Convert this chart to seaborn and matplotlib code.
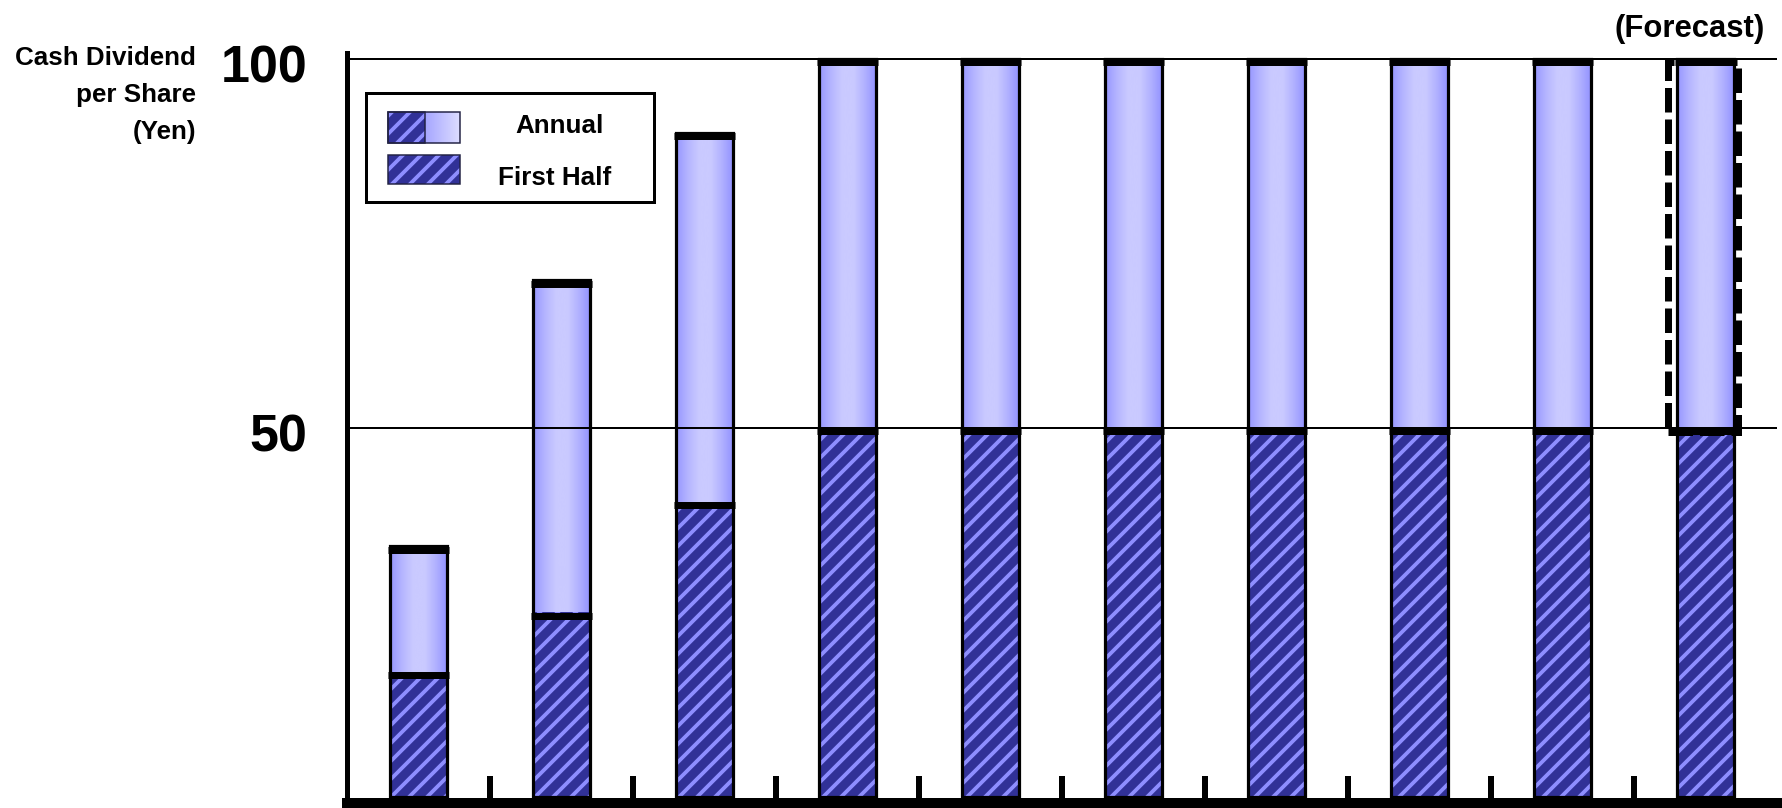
import numpy as np
import pandas as pd
import matplotlib
matplotlib.use("Agg")
import matplotlib.pyplot as plt
from matplotlib.patches import Rectangle
from matplotlib.colors import LinearSegmentedColormap
from matplotlib.ticker import FixedLocator, NullFormatter
import matplotlib.transforms as mtransforms
import seaborn as sns

# ---- data -------------------------------------------------------------
periods = ["P01", "P02", "P03", "P04", "P05", "P06", "P07", "P08", "P09", "P10"]
annual = [34, 70, 90, 100, 100, 100, 100, 100, 100, 100]
first_half = [17, 25, 40, 50, 50, 50, 50, 50, 50, 50]
forecast_index = 9
ytick_values = [50, 100]
ytick_labels = ["50", "100"]

# ---- canvas: sizes below are given in pixels and converted to points ----
W, H = 1782, 808
DPI = 54          # hatch period = DPI / 6 px
P = 72 / DPI      # points per pixel

sns.set_style("white")
plt.rcParams["font.family"] = ["Liberation Sans", "DejaVu Sans"]
plt.rcParams["hatch.linewidth"] = 3.8 * P
for key in ["text.color", "axes.labelcolor", "xtick.color", "ytick.color"]:
    plt.rcParams[key] = "black"

fig = plt.figure(figsize=(W / DPI, H / DPI), dpi=DPI)
fig.patch.set_facecolor("white")


def fx(x):
    return x / W


def fy(y):
    return 1 - y / H


ax_left, ax_right, ax_top, ax_bottom = 347, 1777, 53, 802.5
ax = fig.add_axes([fx(ax_left), fy(ax_bottom), (ax_right - ax_left) / W,
                   (ax_bottom - ax_top) / H])
ax.set_facecolor("white")

DARK = "#313197"
STRIPE = "#8e8eff"
grad_cmap = LinearSegmentedColormap.from_list(
    "bar_grad", ["#9696ff", "#b4b4ff", "#cacaff", "#cacaff", "#b0b0ff", "#9090ff"])

df = pd.DataFrame({"period": periods, "annual": annual, "first_half": first_half})
BAR_W = 0.4

# full-year bars: outline only, gradient is painted inside each one
sns.barplot(data=df, x="period", y="annual", width=BAR_W, saturation=1,
            facecolor="none", edgecolor="black", linewidth=3.2 * P, errorbar=None,
            ax=ax, zorder=6)
annual_patches = list(ax.patches)

# first-half bars: dark fill with light diagonal stripes
sns.barplot(data=df, x="period", y="first_half", width=BAR_W, saturation=1,
            color=DARK, edgecolor=STRIPE, linewidth=0, hatch="/",
            errorbar=None, ax=ax, zorder=4)

grad = np.linspace(0, 1, 256).reshape(1, -1)
for p in annual_patches:
    x0 = p.get_x()
    x1 = x0 + p.get_width()
    top = p.get_height()
    im = ax.imshow(grad, extent=(x0, x1, 0, top), aspect="auto",
                   cmap=grad_cmap, interpolation="bicubic", zorder=2)
    clip = Rectangle((x0, 0), p.get_width(), top, transform=ax.transData)
    im.set_clip_path(clip)

# thick caps at the top of each segment
ppu = (ax_bottom - ax_top) / 101.555  # pixels per unit
cap_off = 3.5 / ppu
xs = np.arange(len(periods))
pad = 1.6 / 143
ax.hlines([v - cap_off for v in annual], xs - BAR_W / 2 - pad, xs + BAR_W / 2 + pad,
          colors="black", linewidth=7 * P, zorder=7, capstyle="butt")
ax.hlines([v - cap_off for v in first_half], xs - BAR_W / 2 - pad, xs + BAR_W / 2 + pad,
          colors="black", linewidth=7 * P, zorder=7, capstyle="butt")

# reference lines
for v in ytick_values:
    ax.axhline(v, color="black", linewidth=2 * P, zorder=8)

# dashed frame around the forecast second-half segment
fi = forecast_index
ax.add_patch(Rectangle((fi - 0.262, 49.5), 0.492, 50.1, fill=False,
                       edgecolor="black", linewidth=7 * P,
                       linestyle=(0, (3.5, 1.0)), zorder=9))

# ---- axes -------------------------------------------------------------
ax.set_xlim(-0.5, len(periods) - 0.5)
ax.set_ylim(-0.745, 100.81)
for s in ["top", "right"]:
    ax.spines[s].set_visible(False)
ax.spines["left"].set_linewidth(5 * P)
ax.spines["left"].set_color("black")
ax.spines["bottom"].set_linewidth(11 * P)
ax.spines["bottom"].set_color("black")
ax.spines["bottom"].set_zorder(10)
ax.spines["left"].set_zorder(10)

ax.set_xlabel("")
ax.set_ylabel("")
ax.xaxis.set_major_locator(FixedLocator([]))
ax.xaxis.set_minor_locator(FixedLocator(list(np.arange(len(periods) - 1) + 0.5)))
ax.xaxis.set_minor_formatter(NullFormatter())
ax.tick_params(axis="x", which="minor", direction="in", length=27.5 * P,
               width=6 * P, color="black", bottom=True)

ax.set_yticks(ytick_values)
ax.set_yticklabels(ytick_labels)
ax.tick_params(axis="y", which="major", direction="in", length=11 * P,
               width=12 * P, color="black", pad=40 * P, labelsize=52 * P)
for lab in ax.get_yticklabels():
    lab.set_fontweight("bold")
    lab.set_transform(lab.get_transform() +
                      mtransforms.ScaledTranslation(0, -5 / DPI, fig.dpi_scale_trans))

# ---- texts ------------------------------------------------------------
label_kw = dict(fontsize=26 * P, fontweight="bold", ha="right", va="baseline")
fig.text(fx(196), fy(65), "Cash Dividend", **label_kw)
fig.text(fx(196), fy(102), "per Share", **label_kw)
fig.text(fx(196), fy(139), "(Yen)", **label_kw)
fig.text(fx(1765), fy(37), "(Forecast)", fontsize=31 * P, fontweight="bold",
         ha="right", va="baseline")

# ---- legend -----------------------------------------------------------
fig.add_artist(Rectangle((fx(366), fy(202)), (654 - 366) / W, (202 - 93) / H,
                         transform=fig.transFigure, fill=True, facecolor="white",
                         edgecolor="black", linewidth=3 * P, zorder=20))


def swatch_hatched(x0, y0, x1, y1):
    fig.add_artist(Rectangle((fx(x0), fy(y1)), (x1 - x0) / W, (y1 - y0) / H,
                             transform=fig.transFigure, facecolor=DARK,
                             edgecolor=STRIPE, linewidth=0, hatch="/", zorder=21))


def swatch_outline(x0, y0, x1, y1):
    fig.add_artist(Rectangle((fx(x0), fy(y1)), (x1 - x0) / W, (y1 - y0) / H,
                             transform=fig.transFigure, fill=False,
                             edgecolor="#222244", linewidth=1.5 * P, zorder=23))


# annual swatch: striped left half, light gradient right half
swatch_hatched(388, 112, 425, 143)
gax = fig.add_axes([fx(425), fy(143), (460 - 425) / W, (143 - 112) / H], zorder=22)
gax.imshow(np.linspace(0, 1, 64).reshape(1, -1), aspect="auto",
           cmap=LinearSegmentedColormap.from_list("sw", ["#a6a6ff", "#dcdcff"]),
           interpolation="bicubic")
gax.set_axis_off()
swatch_outline(388, 112, 460, 143)
swatch_outline(388, 112, 425, 143)

swatch_hatched(388, 155, 460, 184)
swatch_outline(388, 155, 460, 184)

fig.text(fx(560), fy(133), "Annual", fontsize=26 * P, fontweight="bold",
         ha="center", va="baseline", zorder=24)
fig.text(fx(555), fy(185), "First Half", fontsize=26 * P, fontweight="bold",
         ha="center", va="baseline", zorder=24)

fig.savefig("out.png", dpi=DPI, facecolor="white")
